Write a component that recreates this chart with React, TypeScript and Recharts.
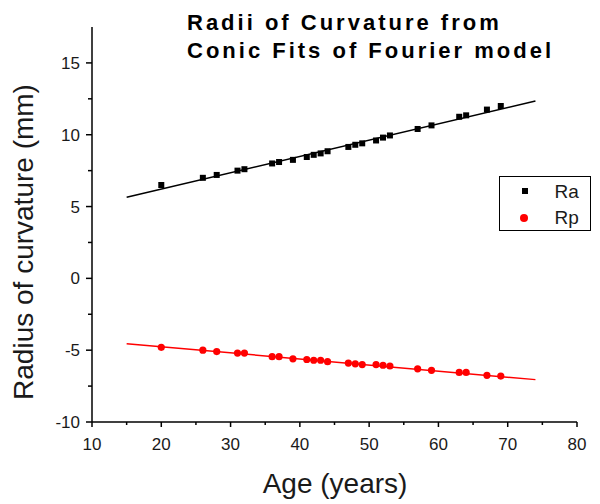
import React from "react";
import { ScatterChart, Scatter, XAxis, YAxis, Label } from "recharts";

const ages = [20, 26, 28, 31, 32, 36, 37, 39, 41, 42, 43, 44, 47, 48, 49, 51, 52, 53, 57, 59, 63, 64, 67, 69];
const raValues = [6.5, 7.0, 7.2, 7.5, 7.6, 8.0, 8.1, 8.25, 8.45, 8.6, 8.7, 8.85, 9.15, 9.3, 9.4, 9.6, 9.8, 9.95, 10.4, 10.65, 11.25, 11.35, 11.75, 12.0];
const rpValues = [-4.8, -5.0, -5.1, -5.2, -5.2, -5.45, -5.45, -5.6, -5.65, -5.7, -5.7, -5.8, -5.9, -5.95, -6.0, -6.0, -6.05, -6.1, -6.3, -6.4, -6.55, -6.55, -6.75, -6.8];

const fitAges = [15, 74];
const fitRa = [5.65, 12.35];
const fitRp = [-4.55, -7.05];

const xTicks = [10, 15, 20, 25, 30, 35, 40, 45, 50, 55, 60, 65, 70, 75, 80];
const yTicks = [-10, -7.5, -5, -2.5, 0, 2.5, 5, 7.5, 10, 12.5, 15];

const raData = ages.map((x, i) => ({ x, y: raValues[i] }));
const rpData = ages.map((x, i) => ({ x, y: rpValues[i] }));
const raFit = fitAges.map((x, i) => ({ x, y: fitRa[i] }));
const rpFit = fitAges.map((x, i) => ({ x, y: fitRp[i] }));

const FONT = "'Liberation Sans', Arial, sans-serif";
const TEXT = "#1a1a1a";

function XTick({ x, y, payload }: any) {
  const v = payload.value;
  const major = v % 10 === 0;
  const axisY = y - 8;
  return (
    <g>
      <line x1={x} x2={x} y1={axisY} y2={axisY + (major ? 5 : 3)} stroke="#000" strokeWidth={1.5} />
      {major && (
        <text x={x} y={axisY + 28} textAnchor="middle" fontSize={17} fill={TEXT} fontFamily={FONT}>
          {v}
        </text>
      )}
    </g>
  );
}

function YTick({ x, y, payload }: any) {
  const v = payload.value;
  const major = v % 5 === 0;
  const axisX = x + 8;
  return (
    <g>
      <line x1={axisX} x2={axisX - (major ? 6 : 4)} y1={y} y2={y} stroke="#000" strokeWidth={1.5} />
      {major && (
        <text x={axisX - 12} y={y + 6} textAnchor="end" fontSize={17} fill={TEXT} fontFamily={FONT}>
          {v}
        </text>
      )}
    </g>
  );
}

const square = (p: any) => <rect x={p.cx - 3} y={p.cy - 3} width={6} height={6} fill="#000" />;
const dot = (p: any) => <circle cx={p.cx} cy={p.cy} r={3.6} fill="#ff0000" />;
const none = () => <g />;

function LegendBox() {
  return (
    <div
      style={{
        position: "absolute",
        left: 499,
        top: 176,
        width: 92,
        height: 55,
        border: "1.5px solid #000",
        boxSizing: "border-box",
        background: "#fff",
        fontFamily: FONT,
        fontSize: 19,
        color: TEXT,
      }}
    >
      <div style={{ position: "absolute", left: 21.5, top: 11, width: 6, height: 6, background: "#000" }} />
      <div style={{ position: "absolute", left: 54.5, top: 3.5, lineHeight: "22px" }}>Ra</div>
      <div style={{ position: "absolute", left: 20, top: 37, width: 8, height: 8, borderRadius: 4, background: "#ff0000" }} />
      <div style={{ position: "absolute", left: 54.5, top: 30, lineHeight: "22px" }}>Rp</div>
    </div>
  );
}

export default function App() {
  return (
    <div style={{ position: "absolute", left: 0, top: 0, width: 600, height: 504, background: "#fff" }}>
      <ScatterChart width={600} height={504} margin={{ top: 27, right: 23, bottom: 52, left: 0 }}>
        <XAxis
          type="number"
          dataKey="x"
          domain={[10, 80]}
          ticks={xTicks}
          interval={0}
          height={30}
          axisLine={{ stroke: "#000", strokeWidth: 1.5 }}
          tickLine={false}
          tickSize={5}
          tickMargin={3}
          tick={<XTick />}
        >
          <Label
            content={() => (
              <text x={335} y={493} textAnchor="middle" fontSize={28} fill={TEXT} fontFamily={FONT}>
                Age (years)
              </text>
            )}
          />
        </XAxis>
        <YAxis
          type="number"
          dataKey="y"
          domain={[-10, 17.5]}
          ticks={yTicks}
          interval={0}
          width={92}
          axisLine={{ stroke: "#000", strokeWidth: 1.5 }}
          tickLine={false}
          tickSize={5}
          tickMargin={3}
          tick={<YTick />}
        >
          <Label
            content={() => (
              <text
                x={33}
                y={242}
                transform="rotate(-90 33 242)"
                textAnchor="middle"
                fontSize={28}
                fill={TEXT}
                fontFamily={FONT}
              >
                Radius of curvature (mm)
              </text>
            )}
          />
        </YAxis>
        <Scatter data={raFit} line={{ stroke: "#000", strokeWidth: 1.5 }} shape={none} isAnimationActive={false} legendType="none" />
        <Scatter data={rpFit} line={{ stroke: "#ff0000", strokeWidth: 1.5 }} shape={none} isAnimationActive={false} legendType="none" />
        <Scatter name="Ra" data={raData} shape={square} isAnimationActive={false} />
        <Scatter name="Rp" data={rpData} shape={dot} isAnimationActive={false} />
      </ScatterChart>
      <div
        style={{
          position: "absolute",
          left: 187,
          top: 9,
          fontFamily: FONT,
          fontWeight: "bold",
          fontSize: 22,
          lineHeight: "28px",
          letterSpacing: 3,
          color: "#000",
          whiteSpace: "nowrap",
        }}
      >
        <div>Radii of Curvature from</div>
        <div>Conic Fits of Fourier model</div>
      </div>
      <LegendBox />
    </div>
  );
}
